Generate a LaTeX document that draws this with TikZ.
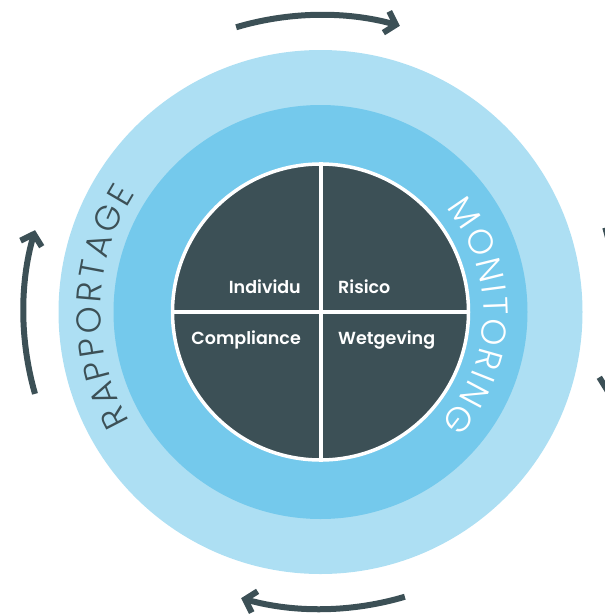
\documentclass[tikz,border=0pt]{standalone}
\usepackage{fontspec}
\setmainfont{Poppins}[UprightFont=* Light, BoldFont=* SemiBold]
\newfontfamily\ringfont{Poppins}[UprightFont=* Light]
\usetikzlibrary{arrows.meta}
\definecolor{ringout}{RGB}{173,223,243}
\definecolor{ringmid}{RGB}{116,201,236}
\definecolor{slate}{RGB}{60,80,86}
\newcommand\rfont{\ringfont\fontsize{34.5}{34.5}\selectfont}
\newbox\letterbox
\newdimen\letterw
\newcommand\measureletter[1]{\setbox\letterbox\hbox{\begin{pgfinterruptpicture}\rfont#1\end{pgfinterruptpicture}}\letterw=\wd\letterbox}
% #1 name, #2 letters, #3 centre angle, #4 baseline radius, #5 gap (pt), #6 colour
\newcommand\arcword[6]{%
  \gdef\totw{0}%
  \foreach \ch in {#2}{\measureletter{\ch}%
    \pgfmathsetmacro\tmpv{\totw+\the\letterw+#5}\global\let\totw\tmpv}%
  \pgfmathsetmacro\tmpv{\totw-#5}\global\let\totw\tmpv
  \gdef\cumw{0}%
  \foreach \ch [count=\i] in {#2}{%
    \measureletter{\ch}%
    \pgfmathsetmacro\midv{\cumw+\the\letterw/2}%
    \pgfmathsetmacro\angv{#3-(\midv-\totw/2)/#4*180/pi}%
    \node[ringletter=#6, rotate=\angv-90] (#1-\i) at ([shift={(\angv:#4)}]c) {\ch};
    \pgfmathsetmacro\tmpv{\cumw+\the\letterw+#5}\global\let\cumw\tmpv}%
}
\begin{document}
\begin{tikzpicture}[x=1pt,y=1pt,
  cyclearrow/.style={draw=slate, line width=6pt, -{Straight Barb[length=10pt,width=22pt]}},
  quadlabel/.style={text=white, font=\bfseries\fontsize{17.5}{17.5}\selectfont, inner sep=0pt},
  ringletter/.style={text=#1, font=\rfont, anchor=base, inner sep=0pt}
  ]
\useasboundingbox (0,0) rectangle (605,-614);
\clip (0,0) rectangle (605,-614);
\coordinate (c) at (320.5,-312);
\fill[ringout] (c) circle[radius=262];
\fill[ringmid] (c) circle[radius=207];
\node[circle, fill=slate, draw=white, line width=3.5pt, minimum size=296pt, inner sep=0pt] (core) at (c) {};
\draw[white, line width=4pt] (core.north) -- (core.south);
\draw[white, line width=4pt] (core.west) -- (core.east);
\node[quadlabel, anchor=base east] (individu) at (301,-293) {Individu};
\node[quadlabel, anchor=base west] (risico) at (338,-293) {Risico};
\node[quadlabel, anchor=base east] (compliance) at (301,-344) {Compliance};
\node[quadlabel, anchor=base west] (wetgeving) at (338,-344) {Wetgeving};
\arcword{rap}{R,A,P,P,O,R,T,A,G,E}{178.6}{220}{2.9}{slate}
\arcword{mon}{M,O,N,I,T,O,R,I,N,G}{-1.5}{163}{2.4}{white}
\draw[cyclearrow] ([shift={(106.5:297)}]c) arc[start angle=106.5, end angle=74.5, radius=297];
\draw[cyclearrow] ([shift={(16.5:297)}]c) arc[start angle=16.5, end angle=-16, radius=297];
\draw[cyclearrow] ([shift={(-73.5:297)}]c) arc[start angle=-73.5, end angle=-105.5, radius=297];
\draw[cyclearrow] ([shift={(196:297)}]c) arc[start angle=196, end angle=164, radius=297];
\end{tikzpicture}
\end{document}
